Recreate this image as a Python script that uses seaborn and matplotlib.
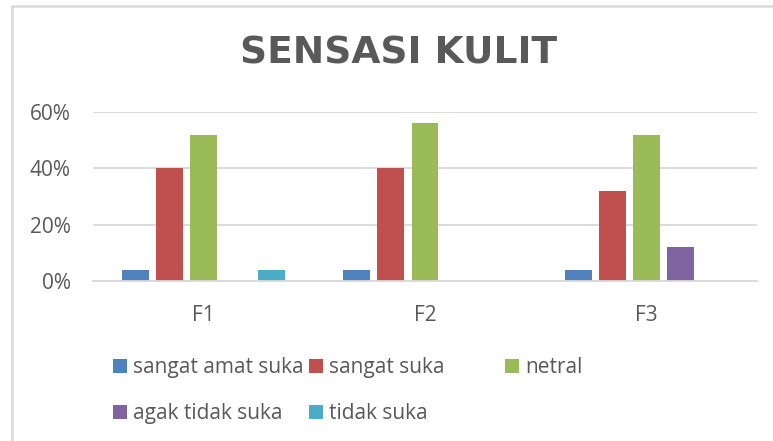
import pandas as pd
import matplotlib.pyplot as plt
import seaborn as sns
from matplotlib.lines import Line2D
from matplotlib.ticker import PercentFormatter

# Data
formulas = ["F1", "F2", "F3"]
responses = ["sangat amat suka", "sangat suka", "netral", "agak tidak suka", "tidak suka"]
sangat_amat_suka = [0.04, 0.04, 0.04]
sangat_suka = [0.40, 0.40, 0.32]
netral = [0.52, 0.56, 0.52]
agak_tidak_suka = [0.0, 0.0, 0.12]
tidak_suka = [0.04, 0.0, 0.0]

colors = ["#4F81BD", "#C0504D", "#9BBB59", "#8064A2", "#4BACC6"]

series = [sangat_amat_suka, sangat_suka, netral, agak_tidak_suka, tidak_suka]
df = pd.DataFrame([
    {"formula": f, "respon": r, "nilai": v}
    for r, vals in zip(responses, series)
    for f, v in zip(formulas, vals)
])

sns.set_style("white")
plt.rcParams['font.family'] = ['Open Sans', 'DejaVu Sans']
text_gray = "#595959"
grid_gray = "#D9D9D9"

fig = plt.figure(figsize=(7.73, 4.41), dpi=100)
ax = fig.add_axes([0.1203, 0.3628, 0.8590, 0.3832])

sns.barplot(data=df, x="formula", y="nilai", hue="respon", hue_order=responses,
            order=formulas, palette=colors, width=0.77, gap=0.21,
            saturation=1, linewidth=0, ax=ax, legend=True)

leg = ax.get_legend()
handles = leg.legend_handles
labels = [t.get_text() for t in leg.get_texts()]
leg.remove()

ax.set_ylim(0, 0.6)
ax.set_xlim(-0.5, 2.5)
ax.set_yticks([0, 0.2, 0.4, 0.6])
ax.yaxis.set_major_formatter(PercentFormatter(1.0, decimals=0))
ax.set_xlabel("")
ax.set_ylabel("")
ax.yaxis.grid(True, color=grid_gray, linewidth=1.3)
ax.set_axisbelow(True)
for side in ["top", "right", "left"]:
    ax.spines[side].set_visible(False)
ax.spines["bottom"].set_color(grid_gray)
ax.spines["bottom"].set_linewidth(1.3)
ax.tick_params(axis="y", length=0, pad=16, labelsize=15, labelcolor=text_gray)
ax.tick_params(axis="x", length=0, pad=17, labelsize=15, labelcolor=text_gray)

fig.text(0.515, 0.879, "SENSASI KULIT", ha="center", va="center",
         fontsize=27, fontweight="bold", color=text_gray, family="DejaVu Sans")

# legend laid out in three columns like the original
cols = [([0, 3], 113), ([1, 4], 309), ([2], 505)]
for idx, xpx in cols:
    fig.legend([handles[i] for i in idx], [labels[i] for i in idx],
               loc="upper left", bbox_to_anchor=(xpx / 773, 1 - 357 / 441),
               frameon=False, fontsize=15, labelcolor=text_gray,
               handlelength=0.67, handleheight=0.67, handletextpad=0.28,
               labelspacing=1.2, borderpad=0, borderaxespad=0)

# light frame on the left and top, as in the source image
fig.add_artist(Line2D([11.5 / 773, 11.5 / 773], [0, 1 - 5.5 / 441],
                      transform=fig.transFigure, color=grid_gray, linewidth=1.8))
fig.add_artist(Line2D([11.5 / 773, 1], [1 - 5.5 / 441, 1 - 5.5 / 441],
                      transform=fig.transFigure, color=grid_gray, linewidth=1.8))

fig.savefig("out.png", dpi=100)
